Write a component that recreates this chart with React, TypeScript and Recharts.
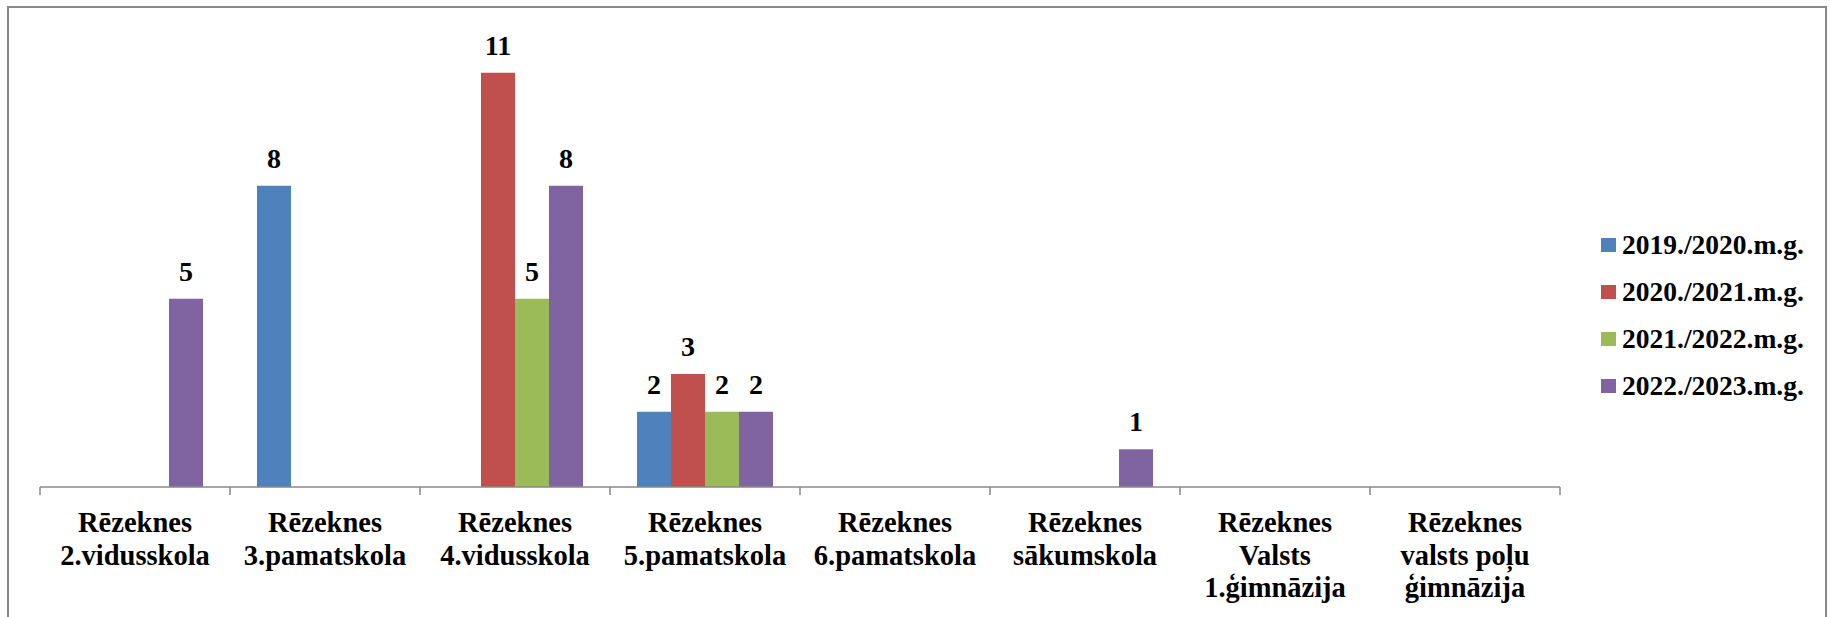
import { Bar, BarChart, LabelList, Legend, XAxis, YAxis } from 'recharts'

const schools = [
  'Rēzeknes\n2.vidusskola',
  'Rēzeknes\n3.pamatskola',
  'Rēzeknes\n4.vidusskola',
  'Rēzeknes\n5.pamatskola',
  'Rēzeknes\n6.pamatskola',
  'Rēzeknes\nsākumskola',
  'Rēzeknes\nValsts\n1.ģimnāzija',
  'Rēzeknes\nvalsts poļu\nģimnāzija',
]

const years = ['2019./2020.m.g.', '2020./2021.m.g.', '2021./2022.m.g.', '2022./2023.m.g.']
const colors = ['#4F81BD', '#C0504D', '#9BBB59', '#8064A2']

const y2019 = [0, 8, 0, 2, 0, 0, 0, 0]
const y2020 = [0, 0, 11, 3, 0, 0, 0, 0]
const y2021 = [0, 0, 5, 2, 0, 0, 0, 0]
const y2022 = [5, 0, 8, 2, 0, 1, 0, 0]

const data = schools.map((name, i) => ({
  name,
  s0: y2019[i],
  s1: y2020[i],
  s2: y2021[i],
  s3: y2022[i],
}))

const W = 1830
const H = 617
const margin = { top: 35, right: 270, left: 40, bottom: 0 }
const bandHalf = (W - margin.left - margin.right) / schools.length / 2
const font = '"Liberation Serif", "Times New Roman", serif'
const axisGrey = '#898989'

function SchoolTick(props: any) {
  const { x, y, payload } = props
  const lines = String(payload.value).split('\n')
  const top = y - 8
  const last = payload.index === schools.length - 1
  return (
    <g>
      <line x1={x - bandHalf} x2={x - bandHalf} y1={top} y2={top + 8} stroke={axisGrey} strokeWidth={1.5} />
      {last && <line x1={x + bandHalf} x2={x + bandHalf} y1={top} y2={top + 8} stroke={axisGrey} strokeWidth={1.5} />}
      <text x={x} y={y + 37} textAnchor="middle" fontFamily={font} fontWeight={700} fontSize={28.5} fill="#000">
        {lines.map((l, i) => (
          <tspan key={i} x={x} dy={i === 0 ? 0 : 32.5}>
            {l}
          </tspan>
        ))}
      </text>
    </g>
  )
}

function YearLegend() {
  return (
    <div style={{ fontFamily: font, fontWeight: 700, fontSize: 27.5, color: '#000' }}>
      {years.map((y, i) => (
        <div key={y} style={{ display: 'flex', alignItems: 'center', height: 47 }}>
          <span style={{ width: 15, height: 14, background: colors[i], marginRight: 6 }} />
          <span>{y}</span>
        </div>
      ))}
    </div>
  )
}

const hideZero = (v: any) => (v ? v : '')

export default function App() {
  return (
    <div style={{ position: 'absolute', left: 0, top: 0, width: W, height: H, overflow: 'hidden', background: '#fff' }}>
      <div
        style={{
          position: 'absolute',
          left: 7,
          top: 6,
          width: 1820,
          height: 700,
          border: `2px solid ${axisGrey}`,
          boxSizing: 'border-box',
        }}
      />
      <BarChart width={W} height={H} data={data} margin={margin} barGap={0} barCategoryGap={27}>
        <XAxis
          dataKey="name"
          height={130}
          interval={0}
          tickLine={false}
          tickSize={8}
          tickMargin={0}
          axisLine={{ stroke: axisGrey, strokeWidth: 1.5 }}
          tick={<SchoolTick />}
        />
        <YAxis hide domain={[0, 12]} />
        <Legend
          layout="horizontal"
          verticalAlign="middle"
          align="center"
          wrapperStyle={{ left: 1601, top: 221, width: 220 }}
          content={<YearLegend />}
        />
        {['s0', 's1', 's2', 's3'].map((key, i) => (
          <Bar key={key} dataKey={key} name={years[i]} fill={colors[i]} isAnimationActive={false}>
            <LabelList
              dataKey={key}
              position="top"
              offset={18}
              formatter={hideZero}
              style={{ fontFamily: font, fontWeight: 700, fontSize: 28, fill: '#000' }}
            />
          </Bar>
        ))}
      </BarChart>
    </div>
  )
}
